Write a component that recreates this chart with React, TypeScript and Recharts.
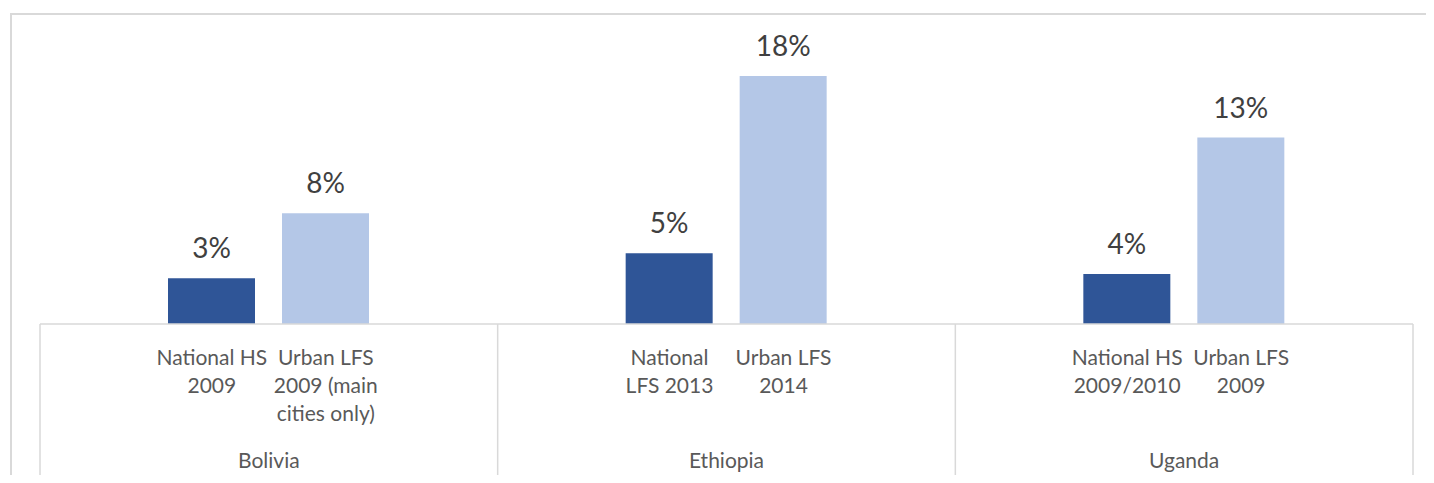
import React from "react";
import { BarChart, Bar, XAxis, YAxis, LabelList } from "recharts";

// categories and their sub-labels (one line per array entry)
const countries = ["Bolivia", "Ethiopia", "Uganda"];
const nationalLabels = [
  ["National HS", "2009"],
  ["National", "LFS 2013"],
  ["National HS", "2009/2010"],
];
const urbanLabels = [
  ["Urban LFS", "2009 (main", "cities only)"],
  ["Urban LFS", "2014"],
  ["Urban LFS", "2009"],
];

// values in %
const nationalValues = [3.3, 5.1, 3.6];
const urbanValues = [8.0, 17.9, 13.45];

const data = countries.map((c, i) => ({
  country: c,
  national: nationalValues[i],
  urban: urbanValues[i],
}));

const CHART_W = 1418;
const CHART_H = 475;
const MARGIN = { top: 25, right: 13, bottom: 0, left: 32 };
const XAXIS_H = 159;
const PLOT_W = CHART_W - MARGIN.left - MARGIN.right;
const BAR_SIZE = 87;
const BAR_GAP = 27;
const SUB_DX = (BAR_SIZE + BAR_GAP) / 2;

const GRID = "#d9d9d9";
const TEXT = "#595959";
const FONT = "Lato, 'Open Sans', sans-serif";

const SubLabel = ({ x, y, lines }: { x: number; y: number; lines: string[] }) => (
  <text x={x} y={y} textAnchor="middle" fill={TEXT} fontSize={21} fontFamily={FONT}>
    {lines.map((t, k) => (
      <tspan key={k} x={x} dy={k === 0 ? 0 : 28}>
        {t}
      </tspan>
    ))}
  </text>
);

const CategoryTick = (props: any) => {
  const { x, y, payload } = props;
  const i = payload.index;
  const band = PLOT_W / countries.length;
  return (
    <g>
      <line x1={x - band / 2} y1={y} x2={x - band / 2} y2={y + 153} stroke={GRID} strokeWidth={1.5} />
      {i === countries.length - 1 && (
        <line x1={x + band / 2} y1={y} x2={x + band / 2} y2={y + 153} stroke={GRID} strokeWidth={1.5} />
      )}
      <SubLabel x={x - SUB_DX} y={y + 41} lines={nationalLabels[i]} />
      <SubLabel x={x + SUB_DX} y={y + 41} lines={urbanLabels[i]} />
      <text x={x} y={y + 144} textAnchor="middle" fill={TEXT} fontSize={21} fontFamily={FONT}>
        {payload.value}
      </text>
    </g>
  );
};

const pct = (v: any) => `${Math.round(Number(v))}%`;

export default function App() {
  return (
    <div
      style={{
        position: "relative",
        width: CHART_W + 8,
        height: CHART_H,
        marginBottom: -8,
        overflow: "hidden",
      }}
    >
      {/* outer chart border, only top/left visible in the crop */}
      <div
        style={{
          position: "absolute",
          left: 2,
          top: 5,
          width: 1500,
          height: 600,
          border: `2px solid ${GRID}`,
        }}
      />
      <BarChart
        width={CHART_W}
        height={CHART_H}
        data={data}
        margin={MARGIN}
        barGap={BAR_GAP}
        style={{ fontFamily: FONT }}
      >
        <XAxis
          dataKey="country"
          height={XAXIS_H}
          interval={0}
          axisLine={{ stroke: GRID, strokeWidth: 1.5 }}
          tickLine={false}
          tickSize={0}
          tickMargin={0}
          tick={<CategoryTick />}
        />
        <YAxis hide domain={[0, 21]} />
        <Bar dataKey="national" fill="#2f5597" barSize={BAR_SIZE} isAnimationActive={false}>
          <LabelList dataKey="national" position="top" offset={20} formatter={pct} fill="#404040" fontSize={28} />
        </Bar>
        <Bar dataKey="urban" fill="#b4c7e7" barSize={BAR_SIZE} isAnimationActive={false}>
          <LabelList dataKey="urban" position="top" offset={20} formatter={pct} fill="#404040" fontSize={28} />
        </Bar>
      </BarChart>
    </div>
  );
}
